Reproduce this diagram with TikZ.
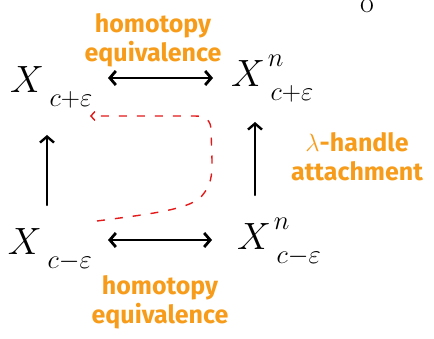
\documentclass[tikz,border=0pt]{standalone}
\usepackage{fix-cm}
\usepackage{fontspec}
\newfontfamily\notefont{Fira Sans}
\usetikzlibrary{positioning,arrows.meta}
\definecolor{noteorange}{RGB}{247,156,26}
\definecolor{pathred}{RGB}{228,24,24}
% level set X, with its sub- and superscript set apart as in the sketch
\newcommand{\levelX}[2]{$X^{\mkern2mu\raise7pt\hbox{$\scriptstyle #2$}}_{\mkern6mu\lower4pt\hbox{$\scriptstyle #1$}}$}

\begin{document}
\begin{tikzpicture}[x=1pt, y=-1pt,
  every node/.style={inner sep=0pt, outer sep=0pt},
  space/.style={anchor=base west, font=\fontsize{38}{38}\selectfont},
  note/.style={text=noteorange, align=center, font=\notefont\bfseries\fontsize{25}{29}\selectfont},
  map/.style={line width=2.8pt, line cap=round, {Straight Barb[length=6pt,width=14pt]}-{Straight Barb[length=6pt,width=14pt]}},
  inc/.style={line width=2.4pt, line cap=round, -{Straight Barb[length=6pt,width=14pt]}},
  trace/.style={pathred, line width=1.4pt, dash pattern=on 8pt off 10pt, -{Straight Barb[length=4pt,width=9pt]}}]
\useasboundingbox (0,0) rectangle (434,339);

\node[space] (tl) at (10,93) {\levelX{c+\varepsilon}{}};
\node[space] (tr) at (231,87) {\levelX{c+\varepsilon}{n}};
\node[space] (bl) at (8,255) {\levelX{c-\varepsilon}{}};
\node[space] (br) at (237,250) {\levelX{c-\varepsilon}{n}};

\node[note] (hetop) at (153,40) {homotopy\\equivalence};
\node[note] (hebot) at (160,302) {homotopy\\equivalence};
\node[note] (attach) at (357,157) {$\lambda$-handle\\attachment};
\node[space, anchor=center, font=\fontsize{30}{30}\selectfont] (cut) at (367,6) {o};

\draw[map] ([shift={(98pt,15pt)}]tl.base west) -- ([shift={(-18pt,9pt)}]tr.base west);
\draw[map] ([shift={(100pt,15pt)}]bl.base west) -- ([shift={(-25pt,10pt)}]br.base west);
\draw[inc] ([shift={(39pt,50pt)}]bl.base west) -- ([shift={(37pt,-42pt)}]tl.base west);
\draw[inc] ([shift={(18pt,55pt)}]br.base west) -- ([shift={(24pt,-35pt)}]tr.base west);

\coordinate (from) at (97,221);
\coordinate (back) at (90,116);
\draw[trace] (from) .. controls (150,214) and (185,210) .. (200,198)
  .. controls (212,185) and (212,175) .. (212,160) -- (211,130)
  .. controls (211,120) and (205,116) .. (195,116) -- (back);
\end{tikzpicture}
\end{document}
